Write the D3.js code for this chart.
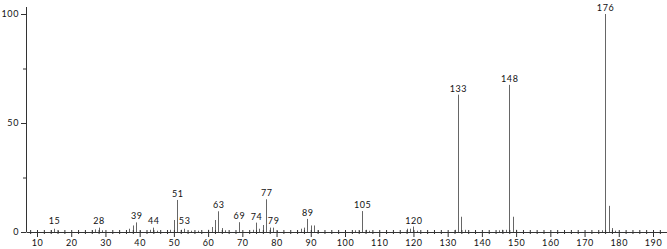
<!DOCTYPE html>
<html>
<head>
<meta charset="utf-8">
<script src="https://cdn.jsdelivr.net/npm/d3@7"></script>
<style>
  body { margin: 0; background: #fff; }
  #chart { width: 667px; height: 249px; }
  text { font-family: Lato, "Open Sans", sans-serif; }
</style>
</head>
<body>
<div id="chart"></div>
<script>
//Datos del espectro (m/z, intensidad relativa)
const MZ = [14, 15, 16, 26, 27, 28, 29, 37, 38, 39, 40, 43, 44, 45, 49, 50, 51, 52, 53, 55, 57,
    60, 61, 62, 63, 64, 65, 69, 73, 74, 75, 76, 77, 78, 79, 80, 86, 87, 88, 89, 90, 91, 92,
    103, 104, 105, 106, 107, 118, 119, 120, 121, 132, 133, 134, 135, 145, 146, 147, 148, 149, 150,
    175, 176, 177, 178, 179];
const INTENSITY = [0.8, 1.5, 0.6, 0.8, 1.2, 2, 0.8, 1.5, 3, 4.4, 0.7, 1, 2, 0.6, 1, 5.5, 14.7, 1, 1.5, 0.6, 0.6,
    1, 2.3, 5.5, 9.5, 1.8, 0.8, 4.5, 1, 4.3, 1.5, 3.2, 15, 2, 2, 0.6, 0.8, 1.5, 2, 6, 3, 3, 0.8,
    0.8, 0.6, 9.6, 1, 0.6, 1.5, 1.5, 2.5, 0.6, 1, 63, 7, 1, 0.8, 1, 1, 67.5, 7, 1,
    0.8, 100, 12, 1.8, 0.6];
const LABELED = [15, 28, 39, 44, 51, 53, 63, 69, 74, 77, 79, 89, 105, 120, 133, 148, 176];
const X_TICKS = [10, 20, 30, 40, 50, 60, 70, 80, 90, 100, 110, 120, 130, 140, 150, 160, 170, 180, 190];
const Y_TICKS = [0, 50, 100];
const Y_MINOR = [25, 75];

const data = MZ.map((m, i) => ({ mz: m, v: INTENSITY[i] }));

const width = 667, height = 249;

let svg = d3.select("#chart").append("svg")
    .attr("width", width)
    .attr("height", height);

// escala x: 10 -> 37px, 190 -> 653px, extendida hasta los bordes
let xBase = d3.scaleLinear().domain([10, 190]).range([37, 653]);
let x = d3.scaleLinear().domain([xBase.invert(26), xBase.invert(667)]).range([26, 667]);
let y = d3.scaleLinear().domain([0, 100]).range([232, 14]);
let yTop = 7;

// picos
svg.append("g")
    .selectAll("line")
    .data(data)
    .enter().append("line")
    .attr("x1", d => Math.round(x(d.mz)) + 0.5)
    .attr("x2", d => Math.round(x(d.mz)) + 0.5)
    .attr("y1", y(0))
    .attr("y2", d => y(d.v))
    .attr("stroke", "#666")
    .attr("stroke-width", 1);

// etiquetas de picos
svg.append("g")
    .selectAll("text")
    .data(data.filter(d => LABELED.includes(d.mz)))
    .enter().append("text")
    .attr("x", d => x(d.mz) + 0.5)
    .attr("y", d => Math.min(y(d.v), y(2.5)) - 3)
    .attr("text-anchor", "middle")
    .attr("font-size", "9px")
    .attr("letter-spacing", "0.6px")
    .attr("fill", "#111")
    .text(d => d.mz);

// eje x
let xAxis = svg.append("g")
    .attr("transform", "translate(0," + y(0) + ")")
    .call(d3.axisBottom(x).tickValues(X_TICKS).tickSize(5).tickSizeOuter(0).tickPadding(3));
xAxis.selectAll(".tick line").attr("y1", -2);

let xMinor = svg.append("g")
    .attr("transform", "translate(0," + y(0) + ")")
    .call(d3.axisBottom(x).tickValues(d3.range(8, 194, 2).filter(v => v % 10 !== 0))
        .tickSize(2).tickSizeOuter(0).tickFormat(""));
xMinor.select(".domain").remove();
xMinor.selectAll(".tick line").attr("y1", -2);

// eje y
let yAxis = svg.append("g")
    .attr("transform", "translate(26,0)")
    .call(d3.axisLeft(y).tickValues(Y_TICKS).tickSize(5).tickSizeOuter(0).tickPadding(2));
yAxis.select(".domain").attr("d", "M0.5," + yTop + "V" + y(0));

let yMinor = svg.append("g")
    .attr("transform", "translate(26,0)")
    .call(d3.axisLeft(y).tickValues(Y_MINOR).tickSize(3).tickFormat(""));
yMinor.select(".domain").remove();

svg.selectAll(".domain, .tick line").attr("stroke", "#333");
svg.selectAll(".tick text")
    .attr("font-family", "Lato, sans-serif")
    .attr("font-size", "9px")
    .attr("letter-spacing", "0.6px")
    .attr("fill", "#111");
</script>
</body>
</html>
